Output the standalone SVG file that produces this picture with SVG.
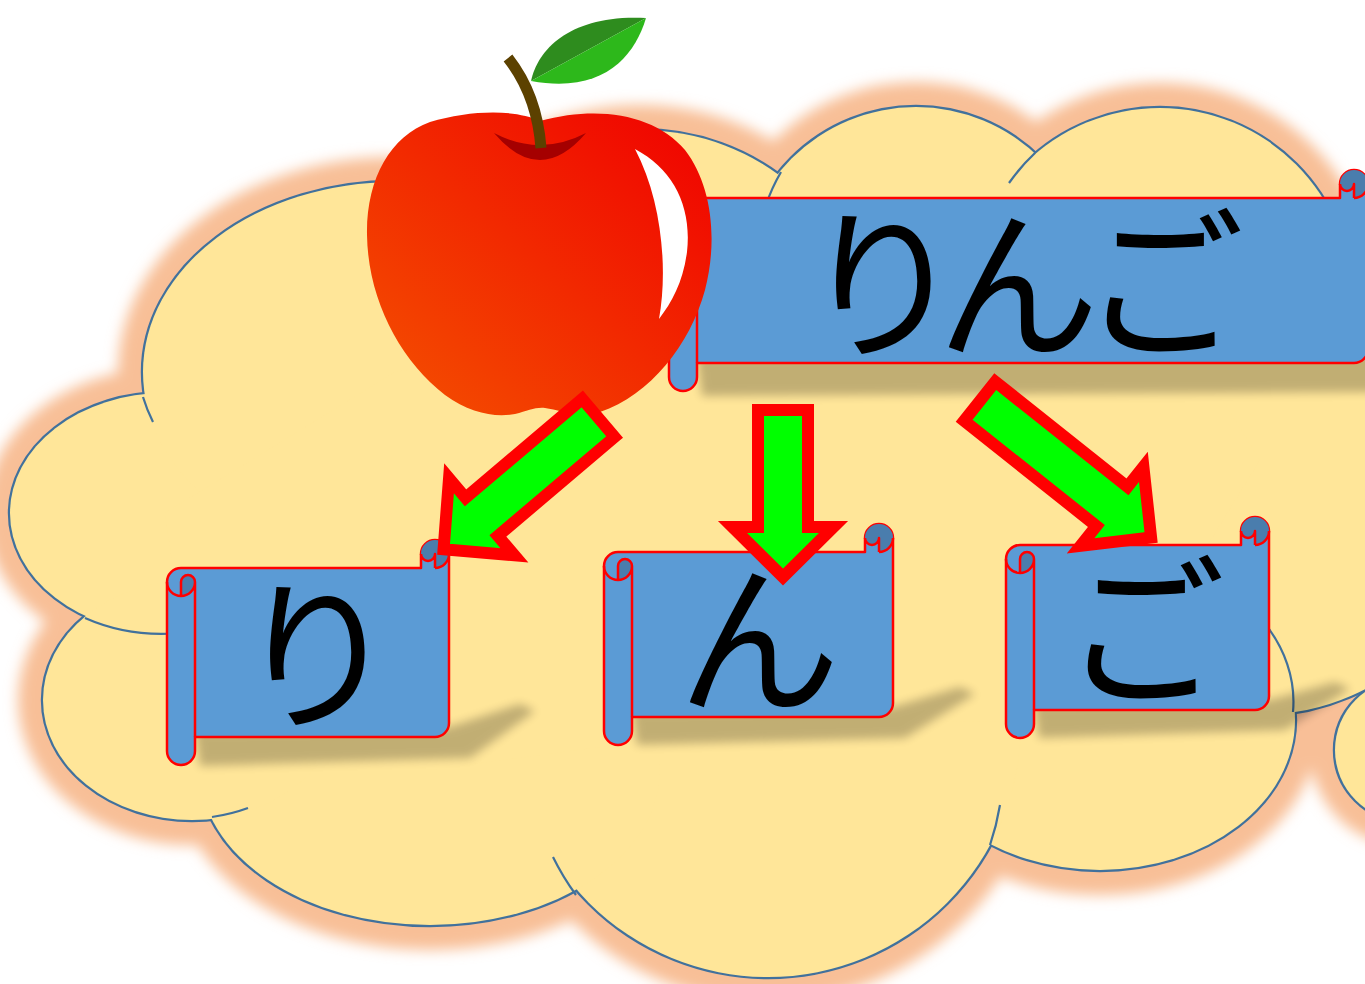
<svg xmlns="http://www.w3.org/2000/svg" width="1365" height="984" viewBox="0 0 1365 984">
<defs>
<style>
.scroll{fill:#5B9BD5;stroke:#FF0000;stroke-width:2.5;stroke-linejoin:round}
.curl{fill:#4A7DAD;stroke:none}
.line{fill:none;stroke:#FF0000;stroke-width:2.5;stroke-linejoin:round}
.shadow{fill:#000;opacity:.24;filter:url(#soft)}
.arrow{fill:#00FF00;stroke:#FF0000;stroke-width:12;stroke-linejoin:miter}
.label{font-family:"Noto Sans CJK JP","Noto Sans CJK SC",sans-serif;font-size:163px;fill:#000;text-anchor:middle}
.tail{fill:none;stroke:#41719C;stroke-width:2.2}
</style>
<filter id="glow" x="-10%" y="-10%" width="120%" height="120%"><feGaussianBlur stdDeviation="7"/></filter>
<filter id="soft" x="-20%" y="-60%" width="140%" height="220%"><feGaussianBlur stdDeviation="5"/></filter>
<linearGradient id="appleFill" x1="0" y1="1" x2="1" y2="0">
<stop offset="0" stop-color="#F45200"/>
<stop offset="1" stop-color="#F00000"/>
</linearGradient>
<!-- cloud lobes -->
<g id="lobes">
<ellipse cx="165" cy="513" rx="155" ry="120"/>
<ellipse cx="395" cy="372" rx="252" ry="190"/>
<ellipse cx="640" cy="330" rx="220" ry="200"/>
<circle cx="916" cy="283" r="176"/>
<circle cx="1160" cy="300" r="192"/>
<ellipse cx="1260" cy="460" rx="240" ry="255"/>
<ellipse cx="1100" cy="720" rx="195" ry="150"/>
<circle cx="1406" cy="750" r="71"/>
<circle cx="768" cy="724" r="253"/>
<ellipse cx="430" cy="770" rx="230" ry="155"/>
<ellipse cx="192" cy="700" rx="149" ry="120"/>
<polygon points="165,513 395,372 640,330 916,283 1160,300 1260,460 1100,720 768,724 430,770 192,700"/>
</g>
</defs>

<rect width="1365" height="984" fill="#FFFFFF"/>

<!-- cloud background -->
<g id="cloud">
<use href="#lobes" fill="#F8BF97" stroke="#F8BF97" stroke-width="50" filter="url(#glow)"/>
<use href="#lobes" fill="none" stroke="#41719C" stroke-width="4.4"/>
<use href="#lobes" fill="#FFE699"/>
<path class="tail" d="M143,397 A252 190 0 0 0 153,422"/>
<path class="tail" d="M85,618 A155 120 0 0 0 180,633"/>
<path class="tail" d="M212,817 A149 120 0 0 0 248,808"/>
<path class="tail" d="M576,895 A253 253 0 0 1 553,857"/>
<path class="tail" d="M990,845 A253 253 0 0 0 1000,805"/>
<path class="tail" d="M1293,712 A195 150 0 0 0 1262,620"/>
<path class="tail" d="M1035,153 A192 192 0 0 0 1009,183"/>
<path class="tail" d="M781,172 A176 176 0 0 0 766,205"/>
</g>

<!-- title scroll -->
<g id="scroll-ringo">
<polygon class="shadow" points="697,356 1400,350 1400,392 702,396"/>
<path class="scroll" d="M669,212 A14 14 0 0 1 683,198 L1340,198 L1340,184 A14 14 0 0 1 1368,184 L1368,349 A14 14 0 0 1 1354,363 L697,363 L697,377 A14 14 0 0 1 669,377 Z"/>
<path class="curl" d="M683,226 A14 14 0 0 0 697,212 A7 7 0 0 0 683,212 Z"/>
<path class="curl" d="M1354,198 A14 14 0 1 0 1340,184 A7 7 0 0 0 1354,184 Z"/>
<path class="line" d="M683,226 L683,212 A7 7 0 0 1 697,212 A14 14 0 0 1 669,212 M697,212 L697,363 M1354,198 A14 14 0 0 0 1368,184 M1354,198 L1354,184 A7 7 0 0 1 1340,184"/>
<text class="label" x="883 1018 1163" y="345">りんご</text>
</g>

<!-- scroll: ri -->
<g id="scroll-ri">
<polygon class="shadow" points="195,731 449,727 520,704 535,711 470,758 200,766"/>
<path class="scroll" d="M167,582 A14 14 0 0 1 181,568 L421,568 L421,554 A14 14 0 0 1 449,554 L449,723 A14 14 0 0 1 435,737 L195,737 L195,751 A14 14 0 0 1 167,751 Z"/>
<path class="curl" d="M181,596 A14 14 0 0 0 195,582 A7 7 0 0 0 181,582 Z"/>
<path class="curl" d="M435,568 A14 14 0 1 0 421,554 A7 7 0 0 0 435,554 Z"/>
<path class="line" d="M181,596 L181,582 A7 7 0 0 1 195,582 A14 14 0 0 1 167,582 M195,582 L195,737 M435,568 A14 14 0 0 0 449,554 M435,568 L435,554 A7 7 0 0 1 421,554"/>
<text class="label" x="317" y="716">り</text>
</g>

<!-- scroll: n -->
<g id="scroll-n">
<polygon class="shadow" points="632,711 893,707 960,687 975,694 905,738 637,745"/>
<path class="scroll" d="M604,566 A14 14 0 0 1 618,552 L865,552 L865,538 A14 14 0 0 1 893,538 L893,703 A14 14 0 0 1 879,717 L632,717 L632,731 A14 14 0 0 1 604,731 Z"/>
<path class="curl" d="M618,580 A14 14 0 0 0 632,566 A7 7 0 0 0 618,566 Z"/>
<path class="curl" d="M879,552 A14 14 0 1 0 865,538 A7 7 0 0 0 879,538 Z"/>
<path class="line" d="M618,580 L618,566 A7 7 0 0 1 632,566 A14 14 0 0 1 604,566 M632,566 L632,717 M879,552 A14 14 0 0 0 893,538 M879,552 L879,538 A7 7 0 0 1 865,538"/>
<text class="label" x="759" y="700">ん</text>
</g>

<!-- scroll: go -->
<g id="scroll-go">
<polygon class="shadow" points="1034,704 1269,700 1335,682 1350,689 1285,730 1039,738"/>
<path class="scroll" d="M1006,559 A14 14 0 0 1 1020,545 L1241,545 L1241,531 A14 14 0 0 1 1269,531 L1269,696 A14 14 0 0 1 1255,710 L1034,710 L1034,724 A14 14 0 0 1 1006,724 Z"/>
<path class="curl" d="M1020,573 A14 14 0 0 0 1034,559 A7 7 0 0 0 1020,559 Z"/>
<path class="curl" d="M1255,545 A14 14 0 1 0 1241,531 A7 7 0 0 0 1255,531 Z"/>
<path class="line" d="M1020,573 L1020,559 A7 7 0 0 1 1034,559 A14 14 0 0 1 1006,559 M1034,559 L1034,710 M1255,545 A14 14 0 0 0 1269,531 M1255,545 L1255,531 A7 7 0 0 1 1241,531"/>
<text class="label" x="1144" y="692">ご</text>
</g>

<!-- apple -->
<g id="apple">
<path fill="url(#appleFill)" d="M540,121 C515,109 470,110 430,122 C390,136 366,180 367,235 C368,300 400,360 445,395 C470,413 495,418 515,414 C528,411 535,407 545,408 C560,410 575,418 600,412 C650,395 690,345 705,290 C718,240 712,185 685,150 C655,115 600,105 540,121 Z"/>
<path fill="#FFFFFF" d="M635,149 C674,170 692,207 687,252 C683,282 672,302 659,319 C668,270 662,200 635,149 Z"/>
<path fill="#A50000" d="M494,133 Q540,187 586,133 Q540,157 494,133 Z"/>
<path fill="none" stroke="#5C4100" stroke-width="11" d="M508,58 Q537,95 541,148"/>
<path fill="#2E8C1E" d="M531,81 C538,48 572,14 646,18 Z"/>
<path fill="#2DB81B" d="M646,18 C634,58 602,94 531,81 Z"/>
</g>

<!-- arrows from the word to each kana -->
<g id="connectors">
<polygon class="arrow" transform="translate(598.4,417.9) rotate(139.7)" points="0,-25 153,-25 153,-50.5 203,0 153,50.5 153,25 0,25"/>
<polygon class="arrow" points="758,410 808,410 808,527 833.5,527 783,577 732.5,527 758,527"/>
<polygon class="arrow" transform="translate(979.7,401.2) rotate(38.5)" points="0,-25 169,-25 169,-50.5 219,0 169,50.5 169,25 0,25"/>
</g>
</svg>
